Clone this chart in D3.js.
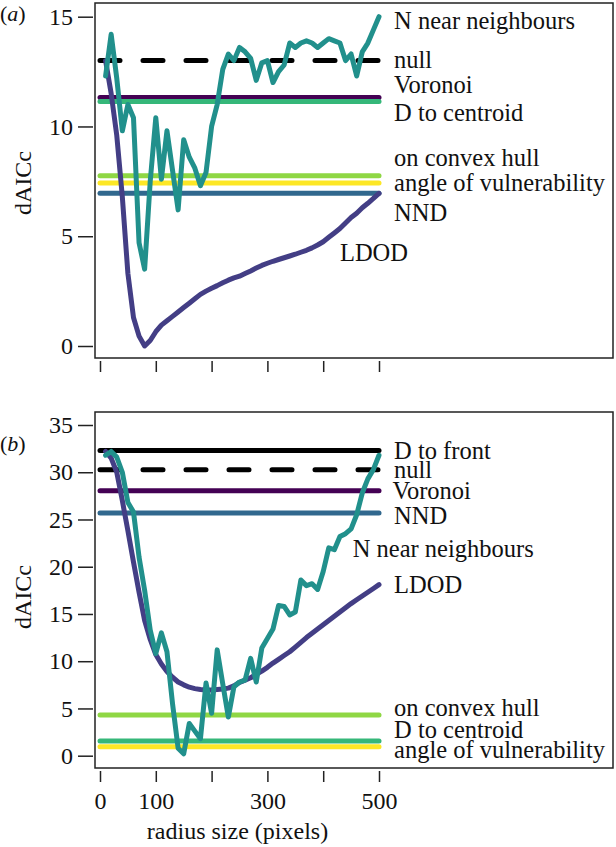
<!DOCTYPE html>
<html>
<head>
<meta charset="utf-8">
<script src="https://cdn.jsdelivr.net/npm/d3@7"></script>
</head>
<body style="margin:0;padding:0;background:#fff">
<svg id="chart" width="616" height="847" style="display:block"></svg>
<script>
// ---------- data ----------
const radius = [10,20,30,40,50,60,70,80,90,100,110,120,130,140,150,160,170,180,190,200,
  210,220,230,240,250,260,270,280,290,300,310,320,330,340,350,360,370,380,390,400,
  410,420,430,440,450,460,470,480,490,500];

// panel (a)
const aNear = [12.3,14.2,12.2,9.8,11.0,10.4,4.7,3.5,7.5,10.4,7.6,9.8,8.0,6.2,9.4,8.6,8.1,7.3,7.9,10.0,
  11.0,12.6,13.3,13.0,13.6,13.4,13.1,12.1,12.9,13.0,12.0,12.5,12.8,13.8,13.6,13.8,13.9,13.8,13.6,13.8,
  14.0,13.9,13.8,13.0,13.3,12.3,13.4,13.8,14.4,15.0];
const aLDOD = [13.0,11.5,9.6,6.8,3.3,1.3,0.45,0.0,0.25,0.65,0.95,1.15,1.35,1.55,1.75,1.95,2.15,2.35,2.5,2.63,
  2.75,2.88,3.0,3.1,3.18,3.3,3.42,3.55,3.67,3.77,3.86,3.94,4.02,4.1,4.18,4.27,4.36,4.47,4.6,4.75,
  4.95,5.15,5.35,5.6,5.85,6.05,6.3,6.5,6.72,6.95];
const aConstNames = ["null","Voronoi","D to centroid","on convex hull","angle of vulnerability","NND"];
const aConstValues = [13.0,11.32,11.14,7.75,7.42,6.96];
const aLabelNames = ["N near neighbours","null","Voronoi","D to centroid","on convex hull","angle of vulnerability","NND","LDOD"];
const aLabelY = [14.8,13.05,11.9,10.6,8.57,7.43,6.06,4.24];
const aLabelX = [527,527,527,527,527,527,527,430];
const aTicks = [0,5,10,15];

// panel (b)
const bNear = [31.8,32.2,31.6,30.0,26.8,25.8,21.0,17.5,13.3,10.8,13.0,11.0,5.5,0.8,0.2,3.4,2.6,1.8,7.7,4.5,
  11.2,7.6,4.1,7.3,7.8,8.0,10.3,7.8,11.4,12.4,13.4,15.9,15.8,14.9,15.2,18.6,18.0,18.2,17.6,19.5,
  22.0,21.8,23.2,23.5,24.0,25.5,27.8,29.3,30.3,31.8];
const bLDOD = [32.2,31.5,30.0,27.0,23.8,20.5,17.3,14.3,12.3,10.7,9.7,8.9,8.3,7.8,7.5,7.25,7.1,7.0,6.95,6.95,
  7.0,7.05,7.15,7.4,7.75,8.0,8.25,8.6,8.95,9.35,9.8,10.2,10.6,11.0,11.5,12.0,12.5,12.95,13.4,13.85,
  14.3,14.75,15.2,15.65,16.1,16.5,16.9,17.3,17.7,18.1];
const bConstNames = ["D to front","null","Voronoi","NND","on convex hull","D to centroid","angle of vulnerability"];
const bConstValues = [32.3,30.26,28.04,25.68,4.31,1.56,0.95];
const bLabelNames = ["D to front","null","Voronoi","NND","N near neighbours","LDOD","on convex hull","D to centroid","angle of vulnerability"];
const bLabelY = [32.25,30.27,28.0,25.4,21.9,18.1,5.05,2.72,0.63];
const bLabelX = [527,527,524,527,453,527,527,527,527];
const bTicks = [0,5,10,15,20,25,30,35];

const xTicks = [0,100,200,300,400,500];
const xTickLabels = ["0","100","","300","","500"];

const colors = {
  "null": "#000000",
  "D to front": "#000000",
  "Voronoi": "#440154",
  "LDOD": "#433e85",
  "NND": "#31688e",
  "N near neighbours": "#21908c",
  "D to centroid": "#35b779",
  "on convex hull": "#8fd744",
  "angle of vulnerability": "#fde725"
};

// ---------- drawing ----------
const svg = d3.select("#chart");
const x = d3.scaleLinear().domain([0, 500]).range([100, 379]);

function styleText(sel, size) {
  sel.attr("font-family", "Liberation Serif").attr("font-size", size).attr("fill", "#111");
}

function panel(opts) {
  const g = svg.append("g").attr("font-family", "Liberation Serif");
  const y = d3.scaleLinear().domain(opts.yDomain).range(opts.yRange);
  const line = d3.line().x((d, i) => x(radius[i])).y(d => y(d));

  // constant-model lines
  opts.constNames.forEach((nm, i) => {
    g.append("line")
      .attr("x1", x(0)).attr("x2", x(500))
      .attr("y1", y(opts.constValues[i])).attr("y2", y(opts.constValues[i]))
      .attr("stroke", colors[nm]).attr("stroke-width", 5)
      .attr("stroke-linecap", "round")
      .attr("stroke-dasharray", nm === "null" ? "20,23" : null);
  });
  g.append("path").datum(opts.ldod).attr("d", line)
    .attr("fill", "none").attr("stroke", colors["LDOD"]).attr("stroke-width", 5)
    .attr("stroke-linejoin", "round").attr("stroke-linecap", "round");
  g.append("path").datum(opts.near).attr("d", line)
    .attr("fill", "none").attr("stroke", colors["N near neighbours"]).attr("stroke-width", 5)
    .attr("stroke-linejoin", "round").attr("stroke-linecap", "round");

  // labels
  opts.labelNames.forEach((nm, i) => {
    const t = g.append("text").attr("x", x(opts.labelX[i])).attr("y", y(opts.labelY[i]))
      .attr("dy", "0.33em").text(nm);
    styleText(t, 24.5);
  });

  // box
  g.append("rect").attr("x", 95).attr("y", opts.box[0]).attr("width", 518)
    .attr("height", opts.box[1] - opts.box[0])
    .attr("fill", "none").attr("stroke", "#222").attr("stroke-width", 1.5);

  // y axis ticks (no axis line)
  const yAxis = d3.axisLeft(y).tickValues(opts.yTicks).tickSize(15).tickPadding(5);
  const ya = g.append("g").attr("transform", "translate(93,0)").call(yAxis);
  ya.attr("font-family", "Liberation Serif").attr("font-size", 24);
  ya.select(".domain").remove();
  ya.selectAll("line").attr("stroke", "#222").attr("stroke-width", 1.5);
  styleText(ya.selectAll("text"), 24);

  // x axis ticks
  const xAxis = d3.axisBottom(x).tickValues(xTicks).tickSize(11).tickPadding(10)
    .tickFormat((d, i) => opts.showX ? xTickLabels[i] : "");
  const xa = g.append("g").attr("transform", `translate(0,${opts.box[1] + 3})`).call(xAxis);
  xa.attr("font-family", "Liberation Serif").attr("font-size", 24);
  xa.select(".domain").remove();
  xa.selectAll("line").attr("stroke", "#222").attr("stroke-width", 1.5);
  styleText(xa.selectAll("text"), 24);

  // y title
  const yt = g.append("text").attr("transform", `translate(31,${opts.yTitle}) rotate(-90)`)
    .attr("text-anchor", "middle").text("dAICc");
  styleText(yt, 24);
  // panel letter
  const t = g.append("text").attr("x", 0).attr("y", opts.letterY);
  styleText(t, 22);
  t.append("tspan").text("(");
  t.append("tspan").attr("font-style", "italic").text(opts.letter);
  t.append("tspan").text(")");
}

panel({
  yDomain: [0, 15], yRange: [346, 16.7], box: [3, 358],
  near: aNear, ldod: aLDOD,
  constNames: aConstNames, constValues: aConstValues,
  labelNames: aLabelNames, labelY: aLabelY, labelX: aLabelX,
  yTicks: aTicks, showX: false, yTitle: 183, letter: "a", letterY: 21
});
panel({
  yDomain: [0, 35], yRange: [755.7, 425], box: [412, 768],
  near: bNear, ldod: bLDOD,
  constNames: bConstNames, constValues: bConstValues,
  labelNames: bLabelNames, labelY: bLabelY, labelX: bLabelX,
  yTicks: bTicks, showX: true, yTitle: 597, letter: "b", letterY: 451
});

const xt = svg.append("text").attr("x", x(250) - 2).attr("y", 839).attr("text-anchor", "middle")
  .text("radius size (pixels)");
styleText(xt, 24);
</script>
</body>
</html>
